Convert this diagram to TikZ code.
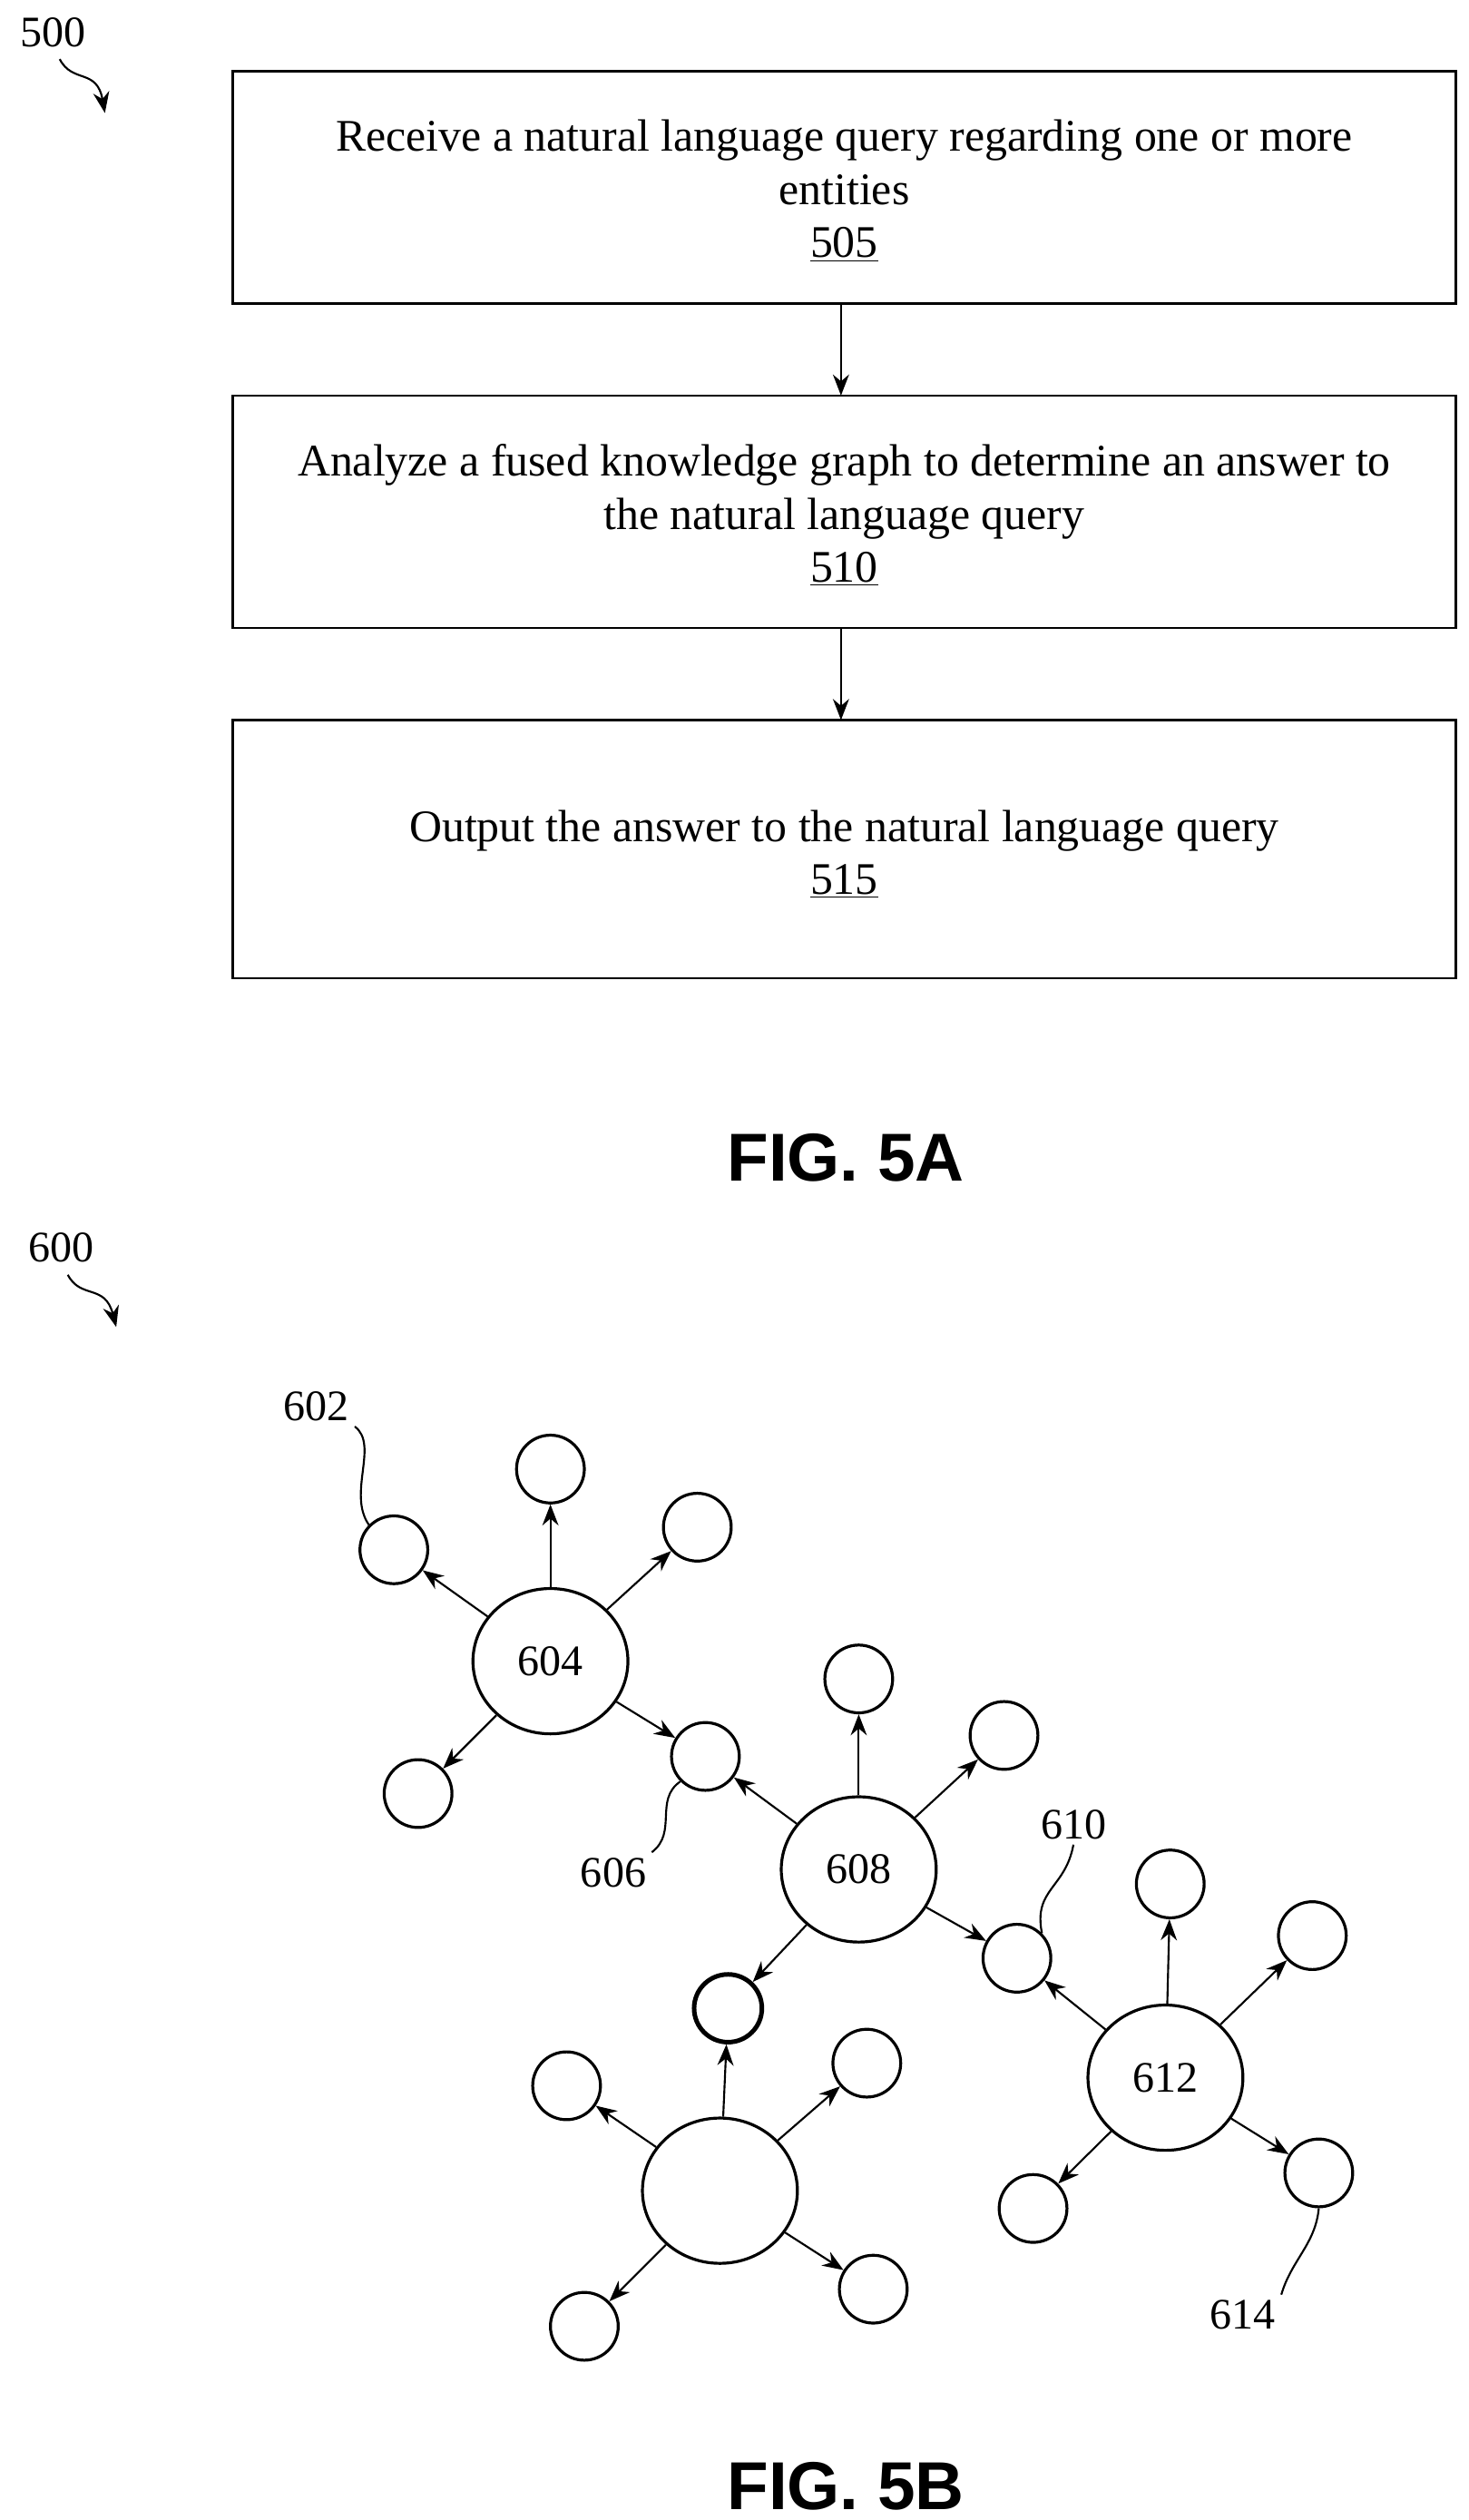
\documentclass[tikz,border=0pt]{standalone}
\usepackage{fontspec}
\setmainfont{Liberation Serif}
\newfontfamily\figfont{Liberation Sans}
\usetikzlibrary{arrows.meta,shapes.geometric}
\begin{document}
\begin{tikzpicture}[x=1pt,y=-1pt,
  box/.style={draw,line width=1.5pt},
  txt/.style={font=\fontsize{28}{33}\selectfont},
  arr/.style={-{Stealth[length=13pt,width=10pt]},line width=1.2pt},
  big/.style={draw,ellipse,line width=1.8pt,minimum width=96pt,minimum height=90pt,inner sep=0pt,font=\fontsize{27}{30}\selectfont},
  sm/.style={draw,circle,line width=1.8pt,minimum size=42pt,inner sep=0pt},
  lab/.style={font=\fontsize{27}{30}\selectfont},
  fig/.style={font=\figfont\bfseries\fontsize{42}{46}\selectfont},
  lead/.style={line width=1.2pt}]
\useasboundingbox (0,0) rectangle (910,1561);
% FIG 5A
\node[lab] (l500) at (33,20) {500};
\coordinate (e500) at (65,70);
\draw[arr] (l500.south) ++(4,4) .. controls (45,52) and (60,42) .. (e500);
\draw[box] (144,44) rectangle (902,188);
\draw[box] (144,245) rectangle (902,389);
\draw[box] (144,446) rectangle (902,606);
\node[txt,align=center] (b1) at (523,118) {Receive a natural language query regarding one or more\\entities\\\underline{505}};
\node[txt,align=center] (b2) at (523,319) {Analyze a fused knowledge graph to determine an answer to\\the natural language query\\\underline{510}};
\node[txt,align=center] (b3) at (523,529) {Output the answer to the natural language query\\\underline{515}};
\coordinate (a1) at (521,188); \coordinate (a2) at (521,245);
\coordinate (a3) at (521,389); \coordinate (a4) at (521,446);
\draw[arr] (a1) -- (a2);
\draw[arr] (a3) -- (a4);
\node[fig] (f5a) at (524,717) {FIG. 5A};
% FIG 5B
\node[lab] (l600) at (38,773) {600};
\coordinate (e600) at (72,822);
\draw[arr] (l600.south) ++(4,4) .. controls (50,805) and (65,795) .. (e600);
\node[big] (n604) at (341,1029) {604};
\node[big] (n608) at (532,1158) {608};
\node[big] (n612) at (722,1287) {612};
\node[big] (n0) at (446,1357) {};
\node[sm] (s602) at (244,960) {};
\node[sm] (s1) at (341,910) {};
\node[sm] (s2) at (432,946) {};
\node[sm] (s3) at (259,1111) {};
\node[sm] (s606) at (437,1088) {};
\node[sm] (s4) at (532,1040) {};
\node[sm] (s5) at (622,1075) {};
\node[sm] (s610) at (630,1213) {};
\node[sm,line width=2.8pt] (s6) at (451,1244) {};
\node[sm] (s7) at (725,1167) {};
\node[sm] (s8) at (813,1199) {};
\node[sm] (s9) at (640,1368) {};
\node[sm] (s614) at (817,1346) {};
\node[sm] (s10) at (351,1292) {};
\node[sm] (s11) at (537,1278) {};
\node[sm] (s12) at (541,1418) {};
\node[sm] (s13) at (362,1441) {};
\foreach \s in {s602,s1,s2,s3,s606} \draw[arr] (n604) -- (\s);
\foreach \s in {s606,s4,s5,s610,s6} \draw[arr] (n608) -- (\s);
\foreach \s in {s610,s7,s8,s9,s614} \draw[arr] (n612) -- (\s);
\foreach \s in {s6,s10,s11,s12,s13} \draw[arr] (n0) -- (\s);
\node[lab] (l602) at (196,871) {602};
\node[lab] (l606) at (380,1160) {606};
\node[lab] (l610) at (665,1130) {610};
\node[lab] (l614) at (770,1434) {614};
\draw[lead] (l602.south east) .. controls (235,895) and (215,925) .. (s602.north west);
\draw[lead] (l606.north east) .. controls (420,1135) and (405,1115) .. (s606.south west);
\draw[lead] (l610.south) .. controls (660,1170) and (640,1170) .. (s610.north east);
\draw[lead] (l614.north east) .. controls (800,1400) and (815,1390) .. (s614.south);
\node[fig] (f5b) at (524,1540) {FIG. 5B};
\end{tikzpicture}
\end{document}
